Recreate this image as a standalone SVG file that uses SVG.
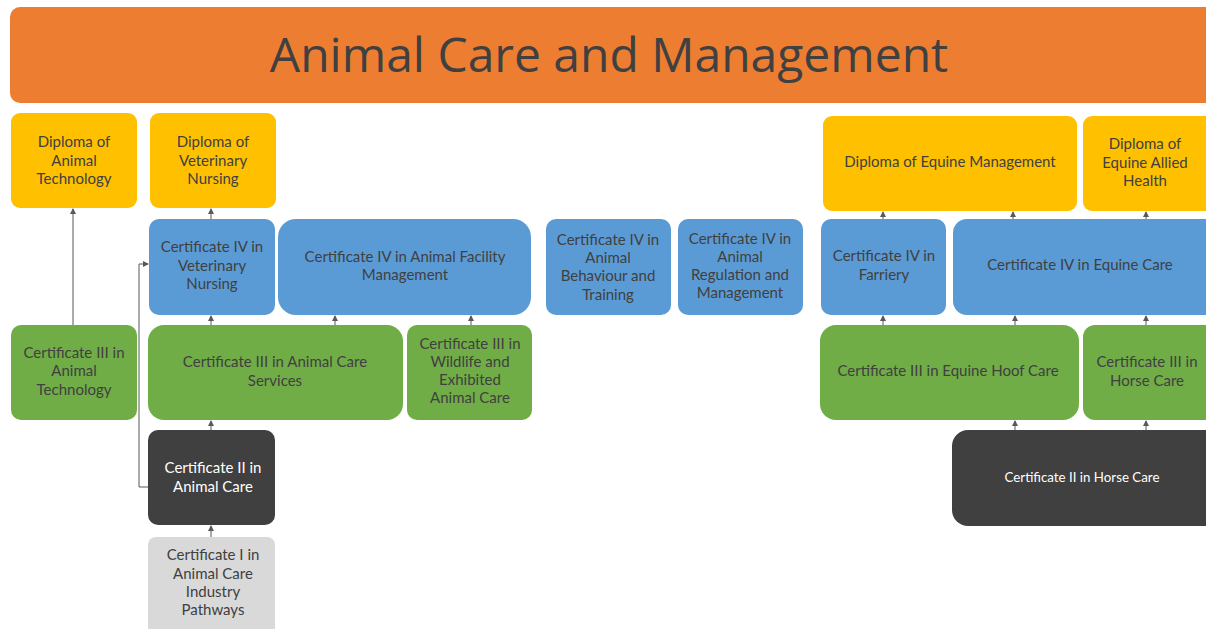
<svg xmlns="http://www.w3.org/2000/svg" width="1206" height="629" viewBox="0 0 1206 629">
<style>
text{font-family:Lato,"Liberation Sans",sans-serif;font-size:15px;fill:#404040;text-anchor:middle}
.w{fill:#ffffff}
.yl{fill:#FFC000}
.bl{fill:#5B9BD5}
.gr{fill:#70AD47}
.dk{fill:#404040}
.lg{fill:#D9D9D9}
.c{stroke:#595959;stroke-width:1;fill:none;marker-end:url(#ah)}
</style>
<defs>
<marker id="ah" markerWidth="6" markerHeight="6" refX="5" refY="3" orient="auto" markerUnits="userSpaceOnUse">
<path d="M0,0 L6,3 L0,6 z" fill="#595959"/>
</marker>
</defs>
<rect width="1206" height="629" fill="#ffffff"/>
<g id="title">
<rect x="10" y="7" width="1210" height="96" rx="10" fill="#ED7D31"/>
<text x="609" y="72" style="font-size:48px;font-family:'Open Sans','Liberation Sans',sans-serif">Animal Care and Management</text>
</g>
<g id="connectors">
<path class="c" d="M73,325 V209"/>
<path class="c" d="M211,219 V209"/>
<path class="c" d="M211,325 V316"/>
<path class="c" d="M335,325 V316"/>
<path class="c" d="M471,325 V316"/>
<path class="c" d="M211,430 V421"/>
<path class="c" d="M211,537 V526"/>
<path class="c" d="M148,487 H139 V264 H148"/>
<path class="c" d="M883,219 V212"/>
<path class="c" d="M1013,219 V212"/>
<path class="c" d="M1146,219 V212"/>
<path class="c" d="M883,325 V316"/>
<path class="c" d="M1015,325 V316"/>
<path class="c" d="M1146,325 V316"/>
<path class="c" d="M1015,430 V421"/>
<path class="c" d="M1146,430 V421"/>
</g>
<g id="dip-animal-tech"><rect class="yl" x="11" y="113" width="126" height="95" rx="9"/>
<text x="74" y="147">Diploma of</text><text x="74" y="166">Animal</text><text x="74" y="184">Technology</text></g>
<g id="dip-vet-nursing"><rect class="yl" x="150" y="113" width="126" height="95" rx="9"/>
<text x="213" y="147">Diploma of</text><text x="213" y="166">Veterinary</text><text x="213" y="184">Nursing</text></g>
<g id="dip-equine-mgmt"><rect class="yl" x="823" y="116" width="254" height="95" rx="9"/>
<text x="950" y="167">Diploma of Equine Management</text></g>
<g id="dip-equine-allied"><rect class="yl" x="1083" y="116" width="140" height="95" rx="9"/>
<text x="1145" y="149">Diploma of</text><text x="1145" y="168">Equine Allied</text><text x="1145" y="186">Health</text></g>

<g id="c4-vet-nursing"><rect class="bl" x="149" y="219" width="126" height="96" rx="10"/>
<text x="212" y="252">Certificate IV in</text><text x="212" y="271">Veterinary</text><text x="212" y="289">Nursing</text></g>
<g id="c4-facility"><rect class="bl" x="278" y="219" width="253" height="96" rx="18"/>
<text x="405" y="262">Certificate IV in Animal Facility</text><text x="405" y="280">Management</text></g>
<g id="c4-behaviour"><rect class="bl" x="546" y="219" width="125" height="96" rx="10"/>
<text x="608" y="245">Certificate IV in</text><text x="608" y="263">Animal</text><text x="608" y="281">Behaviour and</text><text x="608" y="300">Training</text></g>
<g id="c4-regulation"><rect class="bl" x="678" y="219" width="125" height="96" rx="10"/>
<text x="740" y="244">Certificate IV in</text><text x="740" y="262">Animal</text><text x="740" y="280">Regulation and</text><text x="740" y="298">Management</text></g>
<g id="c4-farriery"><rect class="bl" x="821" y="219" width="125" height="96" rx="10"/>
<text x="884" y="261">Certificate IV in</text><text x="884" y="280">Farriery</text></g>
<g id="c4-equine-care"><rect class="bl" x="953" y="219" width="270" height="96" rx="14"/>
<text x="1080" y="270">Certificate IV in Equine Care</text></g>

<g id="c3-animal-tech"><rect class="gr" x="11" y="325" width="126" height="95" rx="10"/>
<text x="74" y="358">Certificate III in</text><text x="74" y="376">Animal</text><text x="74" y="395">Technology</text></g>
<g id="c3-animal-care-services"><rect class="gr" x="148" y="325" width="255" height="95" rx="16"/>
<text x="275" y="367">Certificate III in Animal Care</text><text x="275" y="386">Services</text></g>
<g id="c3-wildlife"><rect class="gr" x="407" y="325" width="125" height="95" rx="10"/>
<text x="470" y="349">Certificate III in</text><text x="470" y="367">Wildlife and</text><text x="470" y="385">Exhibited</text><text x="470" y="403">Animal Care</text></g>
<g id="c3-hoof"><rect class="gr" x="820" y="325" width="259" height="95" rx="16"/>
<text x="948" y="376">Certificate III in Equine Hoof Care</text></g>
<g id="c3-horse-care"><rect class="gr" x="1083" y="325" width="140" height="95" rx="12"/>
<text x="1147" y="367">Certificate III in</text><text x="1147" y="386">Horse Care</text></g>

<g id="c2-animal-care"><rect class="dk" x="148" y="430" width="127" height="95" rx="10"/>
<text class="w" x="213" y="473">Certificate II in</text><text class="w" x="213" y="492">Animal Care</text></g>
<g id="c2-horse-care"><rect class="dk" x="952" y="430" width="270" height="96" rx="16"/>
<text class="w" x="1082" y="482" style="font-size:13.3px">Certificate II in Horse Care</text></g>

<g id="c1-animal-care"><rect class="lg" x="148" y="537" width="127" height="100" rx="8"/>
<text x="213" y="560">Certificate I in</text><text x="213" y="579">Animal Care</text><text x="213" y="597">Industry</text><text x="213" y="615">Pathways</text></g>
</svg>
